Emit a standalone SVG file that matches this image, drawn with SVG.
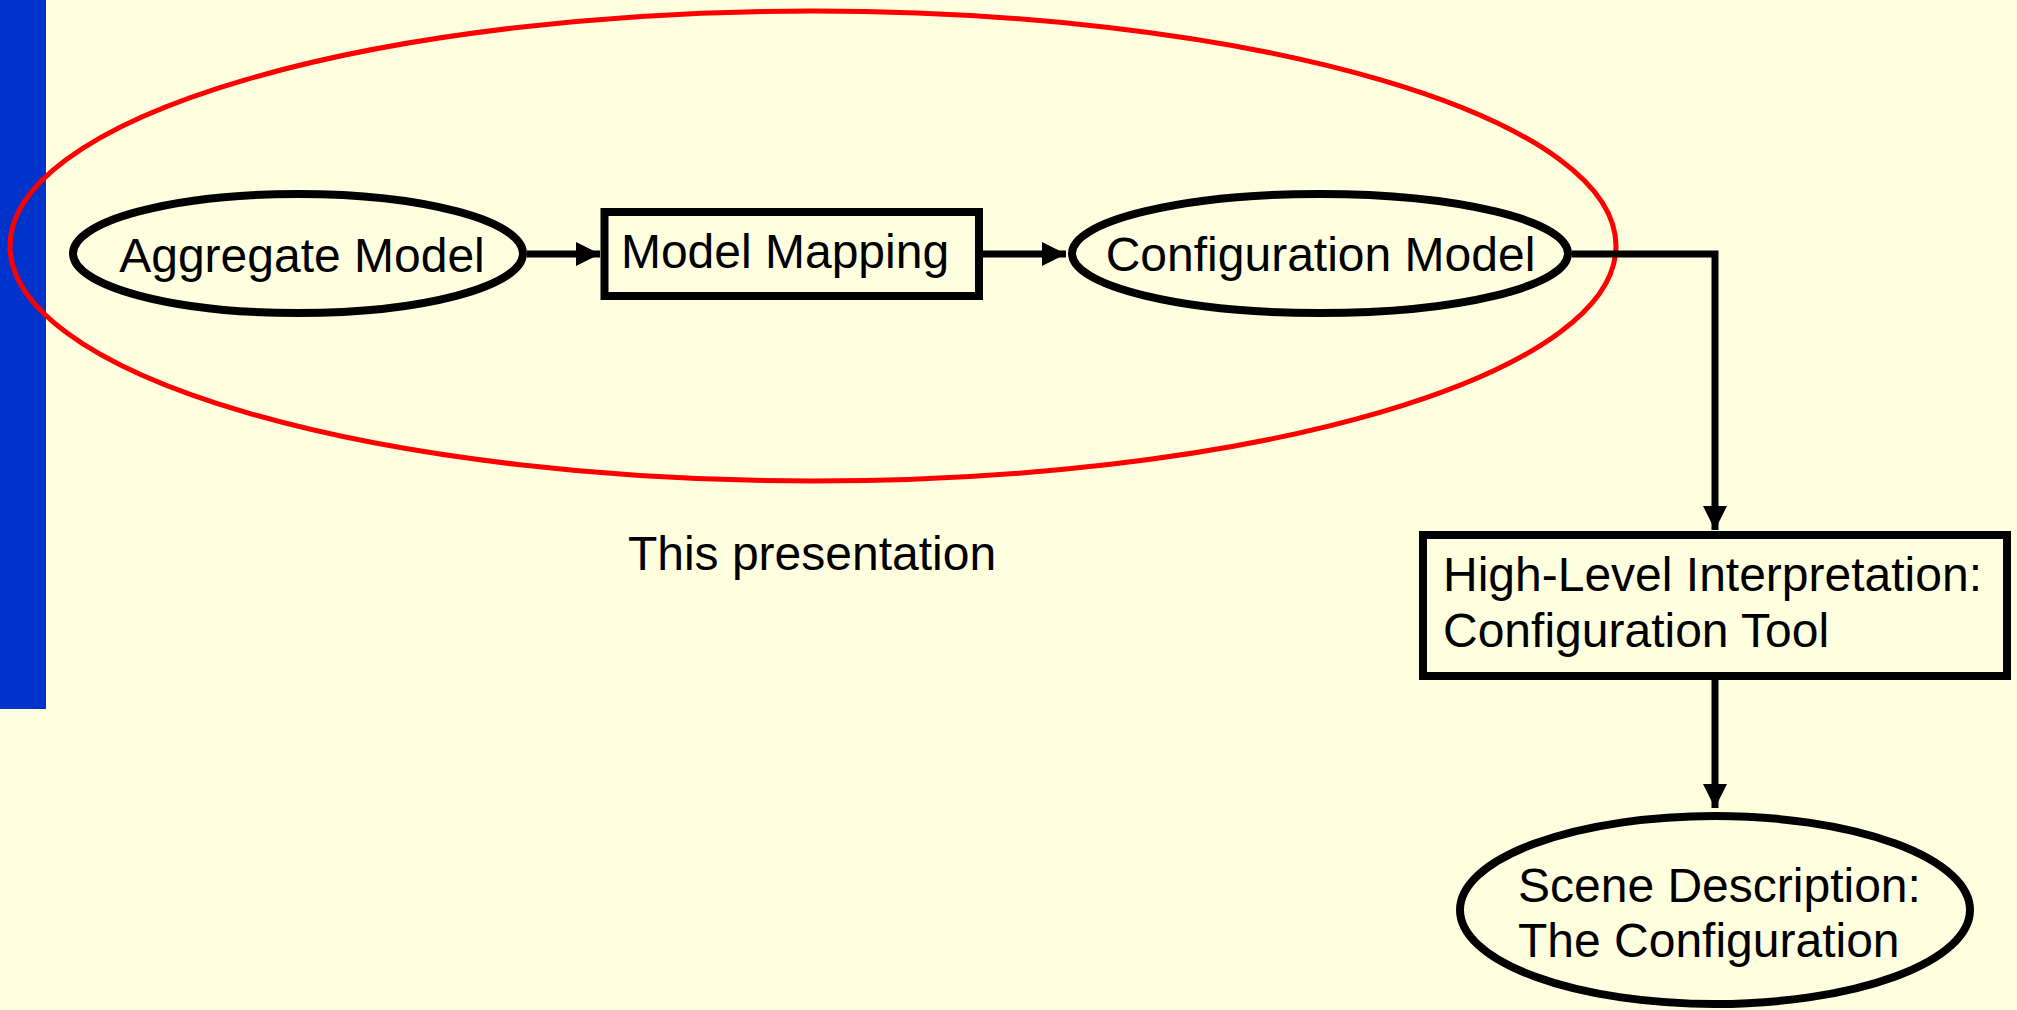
<svg xmlns="http://www.w3.org/2000/svg" width="2017" height="1010" viewBox="0 0 2017 1010">
<style>
  .node { fill: none; stroke: #000; stroke-width: 8; }
  .lbl { font-family: "Liberation Sans", Arial, sans-serif; font-size: 48px; fill: #000; }
  .conn { fill: none; stroke: #000; stroke-width: 7; }
</style>
<defs>
  <marker id="arrow" markerUnits="userSpaceOnUse" markerWidth="24" markerHeight="24" refX="24" refY="12" orient="auto">
    <path d="M0,0 L24,12 L0,24 z" fill="#000"/>
  </marker>
</defs>
<rect x="0" y="0" width="2017" height="1010" fill="#FFFFE0"/>
<rect x="0" y="0" width="46" height="709" fill="#0033CC"/>
<g id="scope">
  <ellipse cx="813" cy="246" rx="803" ry="235" fill="none" stroke="#FF0000" stroke-width="5"/>
  <text class="lbl" x="812" y="570" text-anchor="middle">This presentation</text>
</g>
<g id="connectors">
  <path class="conn" d="M527,254 L600,254" marker-end="url(#arrow)"/>
  <path class="conn" d="M983,254 L1066,254" marker-end="url(#arrow)"/>
  <path class="conn" d="M1572,254 H1715 V530" marker-end="url(#arrow)"/>
  <path class="conn" d="M1715,680 V808" marker-end="url(#arrow)"/>
</g>
<g id="aggregate-model">
  <ellipse class="node" cx="298" cy="253.5" rx="225" ry="59.5"/>
  <text class="lbl" x="302" y="272" text-anchor="middle">Aggregate Model</text>
</g>
<g id="model-mapping">
  <rect class="node" x="604.5" y="212" width="374.5" height="84"/>
  <text class="lbl" x="785" y="268" text-anchor="middle">Model Mapping</text>
</g>
<g id="configuration-model">
  <ellipse class="node" cx="1320" cy="253.5" rx="248" ry="59.5"/>
  <text class="lbl" x="1320.5" y="271" text-anchor="middle">Configuration Model</text>
</g>
<g id="high-level-interpretation">
  <rect class="node" x="1423" y="535" width="584" height="141"/>
  <text class="lbl" x="1443" y="591">High-Level Interpretation:</text>
  <text class="lbl" x="1443" y="647">Configuration Tool</text>
</g>
<g id="scene-description">
  <ellipse class="node" cx="1715" cy="910" rx="255" ry="94"/>
  <text class="lbl" x="1518" y="902">Scene Description:</text>
  <text class="lbl" x="1518" y="957">The Configuration</text>
</g>
</svg>
